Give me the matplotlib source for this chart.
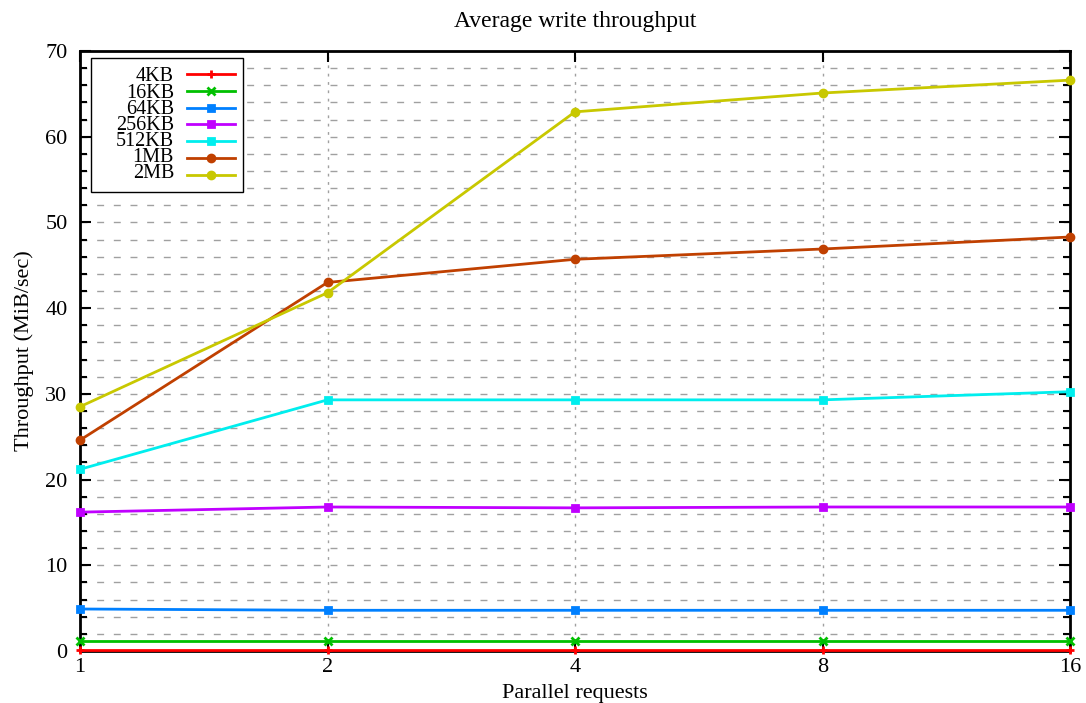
import numpy as np
import matplotlib
matplotlib.use("Agg")
import matplotlib.pyplot as plt
from matplotlib.lines import Line2D
from matplotlib.patches import Rectangle
from matplotlib.ticker import MultipleLocator, FixedLocator, NullLocator

plt.rcParams['font.family'] = ['Liberation Serif', 'DejaVu Serif']

# ----------------------------- Data -----------------------------
parallel = [1, 2, 4, 8, 16]
x_ticklabels = ["1", "2", "4", "8", "16"]

tp_4kb = [0.15, 0.15, 0.15, 0.15, 0.15]
tp_16kb = [1.2, 1.2, 1.2, 1.2, 1.2]
tp_64kb = [4.9, 4.75, 4.75, 4.75, 4.75]
tp_256kb = [16.2, 16.8, 16.7, 16.8, 16.8]
tp_512kb = [21.2, 29.3, 29.3, 29.3, 30.25]
tp_1mb = [24.6, 43.0, 45.7, 46.9, 48.3]
tp_2mb = [28.5, 41.8, 62.9, 65.1, 66.6]

series = [
    ("4KB", tp_4kb, "#ff0000", "+"),
    ("16KB", tp_16kb, "#00c000", "x"),
    ("64KB", tp_64kb, "#0080ff", "s"),
    ("256KB", tp_256kb, "#c000ff", "s"),
    ("512KB", tp_512kb, "#00eeee", "s"),
    ("1MB", tp_1mb, "#c04000", "o"),
    ("2MB", tp_2mb, "#c8c800", "o"),
]

W, H = 1086, 703

# ----------------------------- Plot -----------------------------
fig = plt.figure(figsize=(W / 100, H / 100), dpi=100)
ax = fig.add_axes([80 / W, 52 / H, 990 / W, 600 / H])

# grid: dashed horizontals every 2, dotted verticals at x ticks
for yv in np.arange(2, 70, 2):
    ax.axhline(yv, color="#a0a0a0", lw=1.0, ls=(0, (5, 7)), zorder=0)
for xv in parallel[1:-1]:
    ax.axvline(xv, color="#a0a0a0", lw=1.0, ls=(0, (2, 4)), zorder=0)

for name, vals, color, marker in series:
    ax.plot(parallel, vals, color=color, lw=2.0, marker=marker,
            markersize=5 if marker in "so" else 6, mew=2,
            clip_on=False, zorder=3)

ax.set_xscale("log", base=2)
ax.set_xlim(1, 16)
ax.set_ylim(0, 70)
ax.xaxis.set_major_locator(FixedLocator(parallel))
ax.xaxis.set_minor_locator(NullLocator())
ax.set_xticklabels(x_ticklabels)
ax.yaxis.set_major_locator(MultipleLocator(10))
ax.yaxis.set_minor_locator(MultipleLocator(2))

ax.tick_params(which="both", direction="in", top=True, right=True,
               labelsize=16, width=1.5)
ax.tick_params(axis="y", pad=9)
ax.tick_params(axis="x", pad=5)
ax.tick_params(which="major", length=8)
ax.tick_params(which="minor", length=5)
for sp in ax.spines.values():
    sp.set_linewidth(2.0)

ax.set_title("Average write throughput", fontsize=17, pad=17)
ax.set_xlabel("Parallel requests", fontsize=16, labelpad=5)
ax.set_ylabel("Throughput (MiB/sec)", fontsize=16, labelpad=8)

# legend drawn by hand (gnuplot style: right aligned text, sample on right)
def px(x, y):
    # figure pixel (from top-left) -> axes fraction
    return ((x - 80) / 990, (H - y - 52) / 600)

x0, y0 = px(91, 192)
x1, y1 = px(243, 58)
ax.add_patch(Rectangle((x0, y0), x1 - x0, y1 - y0, transform=ax.transAxes,
                       facecolor="white", edgecolor="black", lw=1.0,
                       zorder=5, clip_on=False))
row_step = 16.8
row_y = 74.0
for name, vals, color, marker in series:
    lx0, ly = px(187, row_y)
    lx1, _ = px(235, row_y)
    mx, _ = px(211, row_y)
    ax.add_line(Line2D([lx0, lx1], [ly, ly], color=color, lw=2.0,
                       transform=ax.transAxes, zorder=6, clip_on=False))
    ax.add_line(Line2D([mx], [ly], color=color, marker=marker, lw=0,
                       markersize=5 if marker in "so" else 6, mew=2,
                       transform=ax.transAxes, zorder=6, clip_on=False))
    row_y += row_step

# labels as one block so rows can sit tight like gnuplot's key
labels = "\n".join(s[0] for s in series)
tx, ty = px(174, 74.0 + 3 * row_step + 1)
ax.text(tx, ty, labels, transform=ax.transAxes, ha="right", va="center",
        multialignment="right", fontsize=14.5, linespacing=0.80, zorder=6)

fig.savefig("out.png", dpi=100)
